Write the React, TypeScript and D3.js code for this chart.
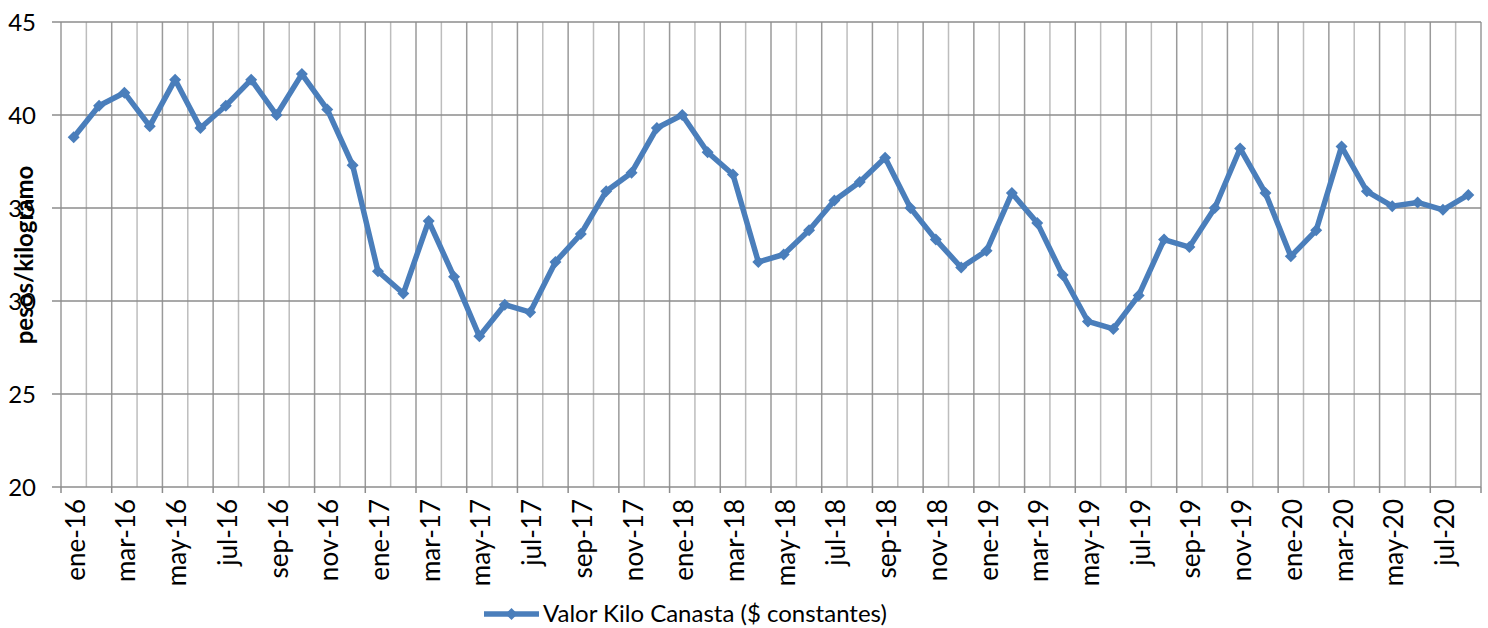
import React, { useEffect, useRef } from "react";
import * as d3 from "d3";

// monthly categories, ene-16 .. ago-20
const months = ["ene", "feb", "mar", "abr", "may", "jun", "jul", "ago", "sep", "oct", "nov", "dic"];
const years = ["16", "17", "18", "19", "20"];
const categories: string[] = [];
years.forEach((y) => months.forEach((m) => categories.push(`${m}-${y}`)));
categories.splice(56);

// Valor Kilo Canasta ($ constantes)
const valores = [
  38.8, 40.5, 41.2, 39.4, 41.9, 39.3, 40.5, 41.9, 40.0, 42.2, 40.3, 37.3,
  31.6, 30.4, 34.3, 31.3, 28.1, 29.8, 29.4, 32.1, 33.6, 35.9, 36.9, 39.3,
  40.0, 38.0, 36.8, 32.1, 32.5, 33.8, 35.4, 36.4, 37.7, 35.0, 33.3, 31.8,
  32.7, 35.8, 34.2, 31.4, 28.9, 28.5, 30.3, 33.3, 32.9, 35.0, 38.2, 35.8,
  32.4, 33.8, 38.3, 35.9, 35.1, 35.3, 34.9, 35.7,
];

const yTicks = [20, 25, 30, 35, 40, 45];
const serieNombre = "Valor Kilo Canasta ($ constantes)";
const ejeTitulo = "pesos/kilogramo";

export default function App() {
  const svgRef = useRef<SVGSVGElement | null>(null);

  useEffect(() => {
    document.body.style.margin = "0";
    if (!svgRef.current) return;
    const svg = d3.select(svgRef.current);
    svg.selectAll("*").remove();

    const width = 1488;
    const height = 628;
    const left = 61;
    const right = 1481;
    const top = 22;
    const bottom = 487;
    const font = "Lato, 'Noto Sans', sans-serif";
    const blue = "#4a7ebb";

    const x = d3.scaleBand<string>().domain(categories).range([left, right]).padding(0);
    const y = d3.scaleLinear().domain([20, 45]).range([bottom, top]);

    svg.attr("width", width).attr("height", height).attr("viewBox", `0 0 ${width} ${height}`);

    // vertical grid at every category boundary
    const bounds = categories.map((c) => x(c)!).concat([right]);
    svg
      .append("g")
      .selectAll("line")
      .data(bounds)
      .enter()
      .append("line")
      .attr("x1", (d) => d)
      .attr("x2", (d) => d)
      .attr("y1", top)
      .attr("y2", bottom)
      .attr("stroke", (_, i) => (i % 2 === 0 ? "#9a9a9a" : "#bdbdbd"))
      .attr("stroke-width", 1.5);

    // horizontal grid
    svg
      .append("g")
      .selectAll("line")
      .data(yTicks)
      .enter()
      .append("line")
      .attr("x1", left - 9)
      .attr("x2", right)
      .attr("y1", (d) => y(d))
      .attr("y2", (d) => y(d))
      .attr("stroke", "#8c8c8c")
      .attr("stroke-width", 1.5);

    // x tick marks every 2 categories
    svg
      .append("g")
      .selectAll("line")
      .data(bounds.filter((_, i) => i % 2 === 0))
      .enter()
      .append("line")
      .attr("x1", (d) => d)
      .attr("x2", (d) => d)
      .attr("y1", bottom)
      .attr("y2", bottom + 6)
      .attr("stroke", "#8c8c8c")
      .attr("stroke-width", 1.5);

    // y labels
    svg
      .append("g")
      .selectAll("text")
      .data(yTicks)
      .enter()
      .append("text")
      .attr("x", 36)
      .attr("y", (d) => y(d))
      .attr("dy", "0.36em")
      .attr("text-anchor", "end")
      .attr("font-family", font)
      .attr("font-size", 24)
      .attr("fill", "#000")
      .text((d) => d);

    // x labels, every second month
    svg
      .append("g")
      .selectAll("text")
      .data(categories.filter((_, i) => i % 2 === 0))
      .enter()
      .append("text")
      .attr("transform", (d) => `translate(${x(d)! + x.bandwidth() / 2 + 11},499) rotate(-90)`)
      .attr("text-anchor", "end")
      .attr("font-family", font)
      .attr("font-size", 26)
      .attr("fill", "#000")
      .text((d) => d);

    // axis title
    svg
      .append("text")
      .attr("transform", `translate(25,255) rotate(-90)`)
      .attr("text-anchor", "middle")
      .attr("dy", "0.35em")
      .attr("font-family", font)
      .attr("font-weight", "bold")
      .attr("font-size", 24)
      .attr("fill", "#000")
      .text(ejeTitulo);

    // series line
    const line = d3
      .line<number>()
      .x((_, i) => x(categories[i])! + x.bandwidth() / 2)
      .y((d) => y(d));

    svg
      .append("path")
      .datum(valores)
      .attr("d", line)
      .attr("fill", "none")
      .attr("stroke", blue)
      .attr("stroke-width", 5.5)
      .attr("stroke-linejoin", "round");

    const diamond = d3.symbol().type(d3.symbolSquare).size(72);
    svg
      .append("g")
      .selectAll("path")
      .data(valores)
      .enter()
      .append("path")
      .attr("d", diamond)
      .attr("transform", (d, i) => `translate(${x(categories[i])! + x.bandwidth() / 2},${y(d)}) rotate(45)`)
      .attr("fill", blue);

    // legend
    const lg = svg.append("g").attr("transform", "translate(484,614)");
    lg.append("line").attr("x1", 0).attr("x2", 55).attr("stroke", blue).attr("stroke-width", 5.5);
    lg.append("path").attr("d", diamond).attr("transform", "translate(27.5,0) rotate(45)").attr("fill", blue);
    lg.append("text")
      .attr("x", 59)
      .attr("dy", "0.35em")
      .attr("font-family", font)
      .attr("font-size", 24)
      .attr("fill", "#000")
      .text(serieNombre);
  }, []);

  return <svg ref={svgRef} style={{ display: "block" }} />;
}
